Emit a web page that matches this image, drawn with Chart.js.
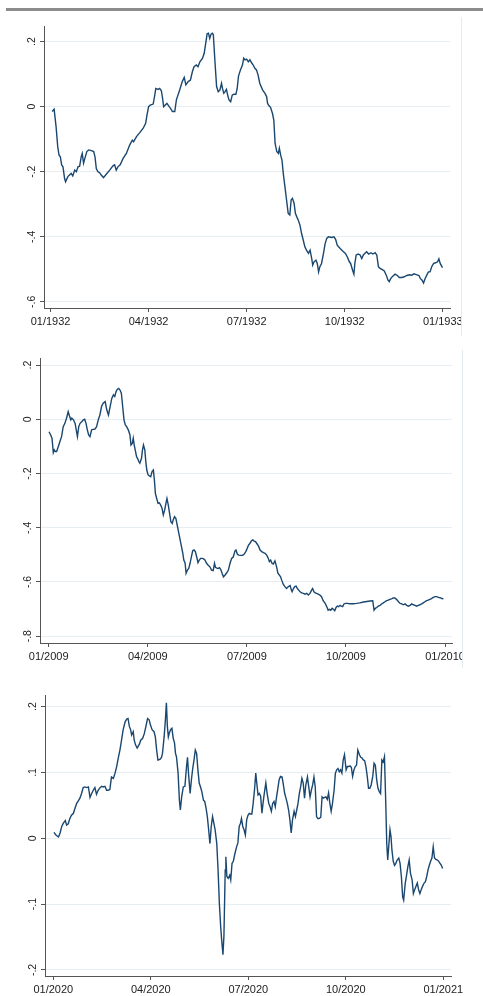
<!DOCTYPE html>
<html>
<head>
<meta charset="utf-8">
<script src="https://cdn.jsdelivr.net/npm/chart.js@4.4.1/dist/chart.umd.min.js"></script>
<style>
  html, body { margin: 0; padding: 0; background: #fff; }
  body { width: 483px; height: 996px; position: relative; overflow: hidden; }
  .rule { position: absolute; left: 6px; top: 8px; width: 477px; height: 3px; background: #8c8c8c; }
  .panel { position: absolute; left: 0; overflow: hidden; }
  .edge { position: absolute; width: 1px; background: #e2ebee; }
  canvas { display: block; }
</style>
</head>
<body>
<div class="rule"></div>
<div class="panel" style="top:0;width:461px;height:330px"><canvas id="c1932" width="483" height="330"></canvas></div>
<div class="edge" style="left:461px;top:17px;height:319px"></div>
<div class="panel" style="top:330px;width:462px;height:340px"><canvas id="c2009" width="483" height="340"></canvas></div>
<div class="edge" style="left:462px;top:350px;height:318px"></div>
<div class="panel" style="top:670px;width:483px;height:326px"><canvas id="c2020" width="483" height="326"></canvas></div>

<script>
// x values are months since January 1st of each year (0 = 01/yyyy, 12 = 01/yyyy+1)
const xTickMonths = [0, 3, 6, 9, 12];
const xLabels1932 = ['01/1932', '04/1932', '07/1932', '10/1932', '01/1933'];
const xLabels2009 = ['01/2009', '04/2009', '07/2009', '10/2009', '01/2010'];
const xLabels2020 = ['01/2020', '04/2020', '07/2020', '10/2020', '01/2021'];

const yTicks1932 = [-0.6, -0.4, -0.2, 0, 0.2];
const yLabels1932 = ['-.6', '-.4', '-.2', '0', '.2'];
const yTicks2009 = [-0.8, -0.6, -0.4, -0.2, 0, 0.2];
const yLabels2009 = ['-.8', '-.6', '-.4', '-.2', '0', '.2'];
const yTicks2020 = [-0.2, -0.1, 0, 0.1, 0.2];
const yLabels2020 = ['-.2', '-.1', '0', '.1', '.2'];

const t1932 = [0.05,0.11,0.17,0.22,0.26,0.30,0.34,0.38,0.43,0.46,0.53,0.58,0.63,0.68,0.74,0.79,0.84,0.89,0.94,0.97,
  1.01,1.05,1.11,1.17,1.25,1.32,1.36,1.40,1.45,1.50,1.55,1.62,1.71,1.81,1.91,1.96,2.01,2.06,2.13,2.22,
  2.32,2.42,2.50,2.54,2.63,2.73,2.83,2.91,2.95,3.00,3.05,3.14,3.19,3.22,3.29,3.34,3.39,3.42,3.46,3.51,
  3.56,3.63,3.67,3.73,3.80,3.85,3.95,4.03,4.09,4.14,4.21,4.28,4.34,4.39,4.46,4.51,4.57,4.65,4.70,4.75,
  4.79,4.83,4.87,4.91,4.95,4.98,5.03,5.08,5.13,5.18,5.23,5.26,5.30,5.34,5.38,5.43,5.46,5.51,5.56,5.61,
  5.67,5.71,5.75,5.81,5.87,5.91,5.95,6.00,6.05,6.10,6.15,6.20,6.25,6.30,6.35,6.40,6.49,6.56,6.61,6.64,
  6.69,6.73,6.79,6.83,6.87,6.92,6.97,7.00,7.04,7.08,7.12,7.17,7.22,7.27,7.32,7.36,7.40,7.45,7.49,7.53,
  7.58,7.63,7.68,7.73,7.78,7.83,7.89,7.94,7.99,8.02,8.06,8.12,8.16,8.20,8.24,8.29,8.35,8.40,8.45,8.50,
  8.60,8.67,8.72,8.77,8.86,8.96,9.02,9.08,9.14,9.18,9.24,9.28,9.31,9.35,9.41,9.47,9.52,9.57,9.62,9.67,
  9.73,9.80,9.86,9.93,9.98,10.03,10.08,10.15,10.21,10.27,10.32,10.36,10.41,10.47,10.54,10.61,10.67,10.75,10.82,10.90,
  10.98,11.05,11.12,11.21,11.27,11.31,11.36,11.41,11.46,11.51,11.56,11.61,11.66,11.72,11.78,11.84,11.88,11.92,11.99];
const y1932 = [-0.015,-0.008,-0.062,-0.123,-0.149,-0.154,-0.179,-0.185,-0.221,-0.231,-0.215,-0.210,-0.205,-0.213,-0.195,-0.200,-0.185,-0.183,-0.154,-0.144,
  -0.174,-0.159,-0.138,-0.133,-0.135,-0.138,-0.154,-0.190,-0.200,-0.203,-0.210,-0.218,-0.207,-0.195,-0.182,-0.179,-0.195,-0.185,-0.179,-0.159,
  -0.144,-0.118,-0.103,-0.108,-0.092,-0.080,-0.067,-0.051,-0.026,0.000,0.005,0.008,0.036,0.056,0.053,0.056,0.049,0.031,0.000,0.005,
  0.010,0.000,-0.005,-0.015,-0.015,0.021,0.051,0.077,0.090,0.067,0.077,0.082,0.108,0.123,0.128,0.123,0.138,0.149,0.164,0.197,
  0.224,0.226,0.210,0.223,0.226,0.221,0.138,0.062,0.046,0.051,0.072,0.056,0.041,0.046,0.053,0.031,0.021,0.015,0.036,0.038,
  0.038,0.056,0.094,0.113,0.128,0.149,0.144,0.146,0.138,0.144,0.135,0.128,0.118,0.113,0.097,0.072,0.051,0.041,0.031,0.010,
  0.002,-0.002,-0.021,-0.041,-0.113,-0.138,-0.144,-0.128,-0.149,-0.164,-0.205,-0.246,-0.287,-0.328,-0.333,-0.287,-0.282,-0.297,-0.328,-0.338,
  -0.349,-0.364,-0.390,-0.410,-0.431,-0.441,-0.451,-0.441,-0.467,-0.487,-0.477,-0.472,-0.482,-0.508,-0.492,-0.482,-0.451,-0.421,-0.405,-0.400,
  -0.402,-0.400,-0.408,-0.426,-0.436,-0.446,-0.451,-0.462,-0.477,-0.482,-0.503,-0.515,-0.482,-0.456,-0.453,-0.456,-0.467,-0.456,-0.451,-0.446,
  -0.453,-0.449,-0.453,-0.449,-0.456,-0.492,-0.497,-0.501,-0.505,-0.518,-0.533,-0.538,-0.528,-0.521,-0.515,-0.519,-0.525,-0.525,-0.523,-0.519,
  -0.517,-0.518,-0.514,-0.517,-0.519,-0.528,-0.533,-0.542,-0.528,-0.518,-0.508,-0.508,-0.492,-0.482,-0.480,-0.477,-0.468,-0.482,-0.495];

const t2009 = [0.01,0.06,0.10,0.14,0.17,0.20,0.24,0.29,0.34,0.39,0.44,0.49,0.54,0.59,0.63,0.67,0.70,0.75,0.80,0.87,
  0.91,0.95,1.00,1.05,1.09,1.13,1.17,1.21,1.25,1.30,1.35,1.40,1.45,1.50,1.55,1.60,1.65,1.71,1.76,1.81,
  1.86,1.91,1.96,2.00,2.04,2.08,2.12,2.16,2.20,2.24,2.28,2.32,2.36,2.41,2.46,2.49,2.53,2.56,2.59,2.63,
  2.66,2.69,2.73,2.76,2.81,2.84,2.87,2.91,2.94,2.97,3.01,3.05,3.09,3.13,3.17,3.20,3.23,3.27,3.31,3.35,
  3.39,3.43,3.47,3.51,3.55,3.58,3.62,3.66,3.70,3.74,3.77,3.81,3.85,3.90,3.94,3.98,4.02,4.06,4.09,4.13,
  4.16,4.20,4.24,4.28,4.32,4.36,4.40,4.44,4.48,4.52,4.56,4.60,4.64,4.68,4.73,4.78,4.83,4.88,4.93,4.98,
  5.02,5.05,5.09,5.13,5.17,5.21,5.25,5.29,5.34,5.39,5.44,5.49,5.54,5.59,5.64,5.67,5.71,5.75,5.81,5.87,
  5.92,5.97,6.01,6.05,6.09,6.14,6.18,6.22,6.26,6.30,6.35,6.40,6.45,6.50,6.55,6.60,6.65,6.68,6.72,6.76,
  6.80,6.85,6.90,6.94,6.98,7.02,7.06,7.10,7.15,7.20,7.26,7.31,7.34,7.37,7.41,7.45,7.49,7.53,7.57,7.61,
  7.66,7.71,7.76,7.81,7.86,7.91,7.96,7.99,8.03,8.07,8.11,8.16,8.21,8.26,8.31,8.37,8.42,8.46,8.50,8.54,
  8.58,8.62,8.66,8.70,8.74,8.78,8.82,8.86,8.90,8.94,8.98,9.04,9.12,9.22,9.32,9.42,9.53,9.63,9.73,9.81,
  9.85,9.89,9.93,9.98,10.03,10.08,10.13,10.18,10.23,10.28,10.33,10.38,10.43,10.48,10.53,10.59,10.64,10.69,10.74,10.79,
  10.84,10.89,10.94,10.99,11.04,11.09,11.14,11.19,11.24,11.29,11.34,11.39,11.44,11.49,11.54,11.59,11.64,11.70,11.75,11.80,
  11.85,11.90,11.95];
const y2009 = [-0.046,-0.058,-0.070,-0.123,-0.113,-0.119,-0.119,-0.101,-0.082,-0.064,-0.027,-0.015,0.004,0.028,0.012,-0.002,0.004,-0.002,-0.015,-0.064,
  -0.027,-0.015,-0.009,-0.002,0.000,-0.015,-0.039,-0.058,-0.064,-0.039,-0.037,-0.036,-0.027,-0.002,0.016,0.047,0.059,0.065,0.034,0.016,
  0.047,0.077,0.090,0.084,0.102,0.111,0.114,0.108,0.096,0.047,-0.002,-0.021,-0.027,-0.039,-0.058,-0.095,-0.089,-0.070,-0.095,-0.119,
  -0.138,-0.144,-0.156,-0.162,-0.144,-0.113,-0.095,-0.113,-0.156,-0.187,-0.205,-0.209,-0.212,-0.193,-0.187,-0.224,-0.273,-0.292,-0.310,-0.308,
  -0.316,-0.328,-0.353,-0.335,-0.310,-0.292,-0.316,-0.347,-0.378,-0.384,-0.371,-0.359,-0.365,-0.396,-0.421,-0.445,-0.470,-0.494,-0.519,-0.531,
  -0.568,-0.556,-0.550,-0.531,-0.507,-0.485,-0.482,-0.488,-0.507,-0.529,-0.519,-0.513,-0.513,-0.514,-0.519,-0.531,-0.538,-0.544,-0.556,-0.558,
  -0.531,-0.546,-0.549,-0.550,-0.547,-0.554,-0.568,-0.581,-0.574,-0.566,-0.556,-0.531,-0.513,-0.507,-0.485,-0.482,-0.497,-0.501,-0.502,-0.502,
  -0.497,-0.487,-0.476,-0.464,-0.458,-0.448,-0.445,-0.449,-0.451,-0.458,-0.467,-0.482,-0.488,-0.492,-0.494,-0.501,-0.513,-0.525,-0.519,-0.531,
  -0.534,-0.522,-0.544,-0.568,-0.574,-0.581,-0.595,-0.608,-0.617,-0.624,-0.617,-0.613,-0.627,-0.636,-0.624,-0.617,-0.615,-0.624,-0.630,-0.636,
  -0.640,-0.642,-0.645,-0.642,-0.648,-0.642,-0.630,-0.624,-0.636,-0.640,-0.642,-0.645,-0.648,-0.654,-0.669,-0.679,-0.691,-0.704,-0.701,-0.704,
  -0.697,-0.701,-0.706,-0.694,-0.689,-0.691,-0.686,-0.689,-0.691,-0.681,-0.679,-0.679,-0.680,-0.680,-0.679,-0.677,-0.674,-0.672,-0.670,-0.669,
  -0.704,-0.697,-0.694,-0.689,-0.686,-0.681,-0.677,-0.673,-0.669,-0.667,-0.664,-0.662,-0.659,-0.659,-0.664,-0.673,-0.679,-0.681,-0.684,-0.681,
  -0.686,-0.689,-0.686,-0.681,-0.684,-0.686,-0.689,-0.686,-0.684,-0.681,-0.677,-0.673,-0.669,-0.667,-0.664,-0.661,-0.657,-0.654,-0.654,-0.657,
  -0.658,-0.661,-0.662];

const t2020 = [0.02,0.08,0.16,0.21,0.26,0.31,0.37,0.41,0.46,0.51,0.56,0.62,0.67,0.72,0.77,0.82,0.87,0.92,0.97,1.03,
  1.08,1.13,1.18,1.23,1.28,1.33,1.38,1.44,1.49,1.54,1.59,1.64,1.69,1.74,1.79,1.85,1.90,1.95,2.00,2.05,
  2.10,2.15,2.21,2.26,2.30,2.34,2.38,2.41,2.46,2.49,2.53,2.58,2.65,2.69,2.75,2.80,2.85,2.90,2.95,2.99,
  3.04,3.10,3.14,3.18,3.22,3.28,3.33,3.36,3.41,3.45,3.48,3.51,3.54,3.57,3.61,3.65,3.69,3.73,3.76,3.79,
  3.84,3.88,3.91,3.95,4.00,4.05,4.10,4.13,4.16,4.21,4.25,4.29,4.33,4.37,4.41,4.45,4.49,4.53,4.57,4.62,
  4.66,4.70,4.74,4.78,4.82,4.86,4.90,4.94,4.98,5.03,5.07,5.11,5.15,5.18,5.22,5.25,5.29,5.31,5.34,5.38,
  5.43,5.46,5.50,5.54,5.58,5.64,5.68,5.72,5.76,5.79,5.83,5.87,5.91,5.95,5.99,6.03,6.07,6.11,6.15,6.19,
  6.23,6.26,6.30,6.34,6.38,6.42,6.46,6.50,6.54,6.58,6.63,6.67,6.71,6.75,6.79,6.83,6.87,6.91,6.95,6.99,
  7.04,7.08,7.12,7.16,7.20,7.24,7.28,7.32,7.36,7.41,7.45,7.49,7.53,7.57,7.61,7.65,7.69,7.73,7.77,7.82,
  7.86,7.90,7.94,7.98,8.02,8.06,8.10,8.14,8.18,8.23,8.27,8.31,8.35,8.39,8.43,8.47,8.51,8.55,8.59,8.64,
  8.68,8.72,8.76,8.80,8.84,8.88,8.92,8.96,9.01,9.05,9.09,9.13,9.17,9.21,9.25,9.29,9.33,9.37,9.42,9.46,
  9.50,9.54,9.58,9.62,9.66,9.70,9.74,9.78,9.83,9.87,9.91,9.95,9.99,10.03,10.07,10.11,10.15,10.19,10.23,10.26,
  10.29,10.32,10.36,10.39,10.42,10.46,10.50,10.54,10.58,10.63,10.67,10.71,10.75,10.78,10.83,10.87,10.91,10.95,10.99,11.04,
  11.08,11.12,11.16,11.20,11.24,11.28,11.32,11.36,11.41,11.45,11.49,11.53,11.57,11.61,11.65,11.69,11.73,11.77,11.82,11.86,
  11.90,11.94,11.98];
const y2020 = [0.009,0.005,0.002,0.008,0.018,0.023,0.027,0.020,0.022,0.030,0.035,0.038,0.046,0.053,0.057,0.061,0.068,0.077,0.078,0.077,
  0.078,0.062,0.068,0.073,0.077,0.067,0.073,0.077,0.079,0.078,0.079,0.073,0.073,0.074,0.093,0.091,0.099,0.109,0.122,0.134,
  0.149,0.165,0.177,0.181,0.182,0.170,0.165,0.157,0.162,0.149,0.142,0.137,0.143,0.149,0.152,0.159,0.170,0.182,0.180,0.172,
  0.165,0.162,0.154,0.134,0.119,0.120,0.123,0.129,0.154,0.180,0.206,0.170,0.154,0.160,0.165,0.167,0.152,0.145,0.129,0.124,
  0.099,0.058,0.043,0.063,0.078,0.079,0.109,0.123,0.099,0.068,0.089,0.106,0.119,0.134,0.129,0.104,0.084,0.078,0.071,0.058,
  0.056,0.046,0.033,0.013,-0.008,0.018,0.033,0.023,0.013,-0.008,-0.048,-0.099,-0.134,-0.154,-0.177,-0.149,-0.048,-0.028,-0.058,-0.061,
  -0.056,-0.063,-0.038,-0.035,-0.025,-0.013,-0.007,0.018,0.023,0.030,0.018,0.013,0.005,0.028,0.035,0.038,0.037,0.037,0.053,0.073,
  0.099,0.084,0.066,0.068,0.064,0.038,0.056,0.071,0.084,0.068,0.053,0.048,0.041,0.053,0.056,0.048,0.063,0.076,0.089,0.094,
  0.093,0.081,0.068,0.061,0.053,0.043,0.028,0.008,0.028,0.041,0.033,0.043,0.053,0.068,0.078,0.091,0.084,0.061,0.081,0.093,
  0.078,0.063,0.073,0.081,0.093,0.078,0.033,0.030,0.030,0.032,0.063,0.061,0.062,0.063,0.059,0.069,0.053,0.041,0.053,0.073,
  0.099,0.104,0.106,0.101,0.104,0.099,0.119,0.127,0.104,0.109,0.109,0.110,0.108,0.094,0.104,0.109,0.111,0.134,0.127,0.123,
  0.122,0.119,0.118,0.109,0.094,0.076,0.076,0.081,0.094,0.114,0.111,0.089,0.076,0.071,0.068,0.119,0.116,0.124,0.053,-0.008,
  -0.033,-0.013,0.013,0.003,-0.018,-0.035,-0.041,-0.038,-0.033,-0.030,-0.038,-0.058,-0.089,-0.094,-0.068,-0.056,-0.043,-0.033,-0.053,-0.063,
  -0.084,-0.078,-0.073,-0.068,-0.078,-0.084,-0.078,-0.073,-0.068,-0.066,-0.058,-0.048,-0.041,-0.035,-0.030,-0.013,-0.030,-0.032,-0.033,-0.035,
  -0.038,-0.041,-0.046];

const FONT = '"Liberation Sans", Arial, Helvetica, sans-serif';
const LINE = '#1a476f';
const AXIS = '#555555';
const GRID = '#e6eef1';
const TEXT = '#222222';

// y tick labels are drawn turned 90 degrees, reading upward
const rotatedYLabels = {
  id: 'rotatedYLabels',
  afterDraw(chart, args, opts) {
    const s = chart.scales.y, ctx = chart.ctx;
    ctx.save();
    ctx.fillStyle = TEXT;
    ctx.font = '10.5px ' + FONT;
    ctx.textAlign = 'center';
    ctx.textBaseline = 'alphabetic';
    s.ticks.forEach(function (t, i) {
      ctx.save();
      ctx.translate(s.right - opts.gap, s.getPixelForValue(t.value));
      ctx.rotate(-Math.PI / 2);
      ctx.fillText(opts.labels[i], 0, 0);
      ctx.restore();
    });
    ctx.restore();
  }
};

function makePanel(id, xs, ys, xLabels, yTicks, yLabels, box) {
  const canvas = document.getElementById(id);
  const W = canvas.width, H = canvas.height;
  const points = xs.map(function (x, i) { return { x: x, y: ys[i] }; });
  return new Chart(canvas, {
    type: 'line',
    data: {
      datasets: [{
        data: points, borderColor: LINE, borderWidth: 1.4,
        pointRadius: 0, tension: 0, fill: false
      }]
    },
    options: {
      responsive: false, animation: false, devicePixelRatio: 1,
      layout: { padding: { left: 0, top: box.top, right: W - box.right, bottom: 0 } },
      plugins: {
        legend: { display: false }, tooltip: { enabled: false },
        rotatedYLabels: { labels: yLabels, gap: 9 }
      },
      scales: {
        x: {
          type: 'linear', min: box.xMin, max: box.xMax,
          afterBuildTicks: function (s) { s.ticks = xTickMonths.map(function (v) { return { value: v }; }); },
          afterFit: function (s) { s.height = H - box.bottom; s.paddingLeft = 0; s.paddingRight = 0; },
          grid: { drawOnChartArea: false, drawTicks: true, tickLength: 4, tickColor: AXIS },
          border: { color: AXIS, width: 1 },
          ticks: {
            autoSkip: false, maxRotation: 0, minRotation: 0, padding: 3, color: TEXT,
            font: { family: FONT, size: 11 },
            callback: function (v, i) { return xLabels[i]; }
          }
        },
        y: {
          type: 'linear', min: box.yMin, max: box.yMax,
          afterBuildTicks: function (s) { s.ticks = yTicks.map(function (v) { return { value: v }; }); },
          afterFit: function (s) { s.width = box.left; s.paddingTop = 0; s.paddingBottom = 0; },
          grid: { color: GRID, lineWidth: 1, drawTicks: true, tickLength: 4, tickColor: AXIS },
          border: { color: AXIS, width: 1 },
          ticks: { display: false }
        }
      }
    },
    plugins: [rotatedYLabels]
  });
}

makePanel('c1932', t1932, y1932, xLabels1932, yTicks1932, yLabels1932,
  { left: 44, top: 26, right: 450, bottom: 308, xMin: -0.2, xMax: 12.22, yMin: -0.619, yMax: 0.248 });
makePanel('c2009', t2009, y2009, xLabels2009, yTicks2009, yLabels2009,
  { left: 40, top: 28, right: 452, bottom: 313, xMin: -0.263, xMax: 12.21, yMin: -0.825, yMax: 0.226 });
makePanel('c2020', t2020, y2020, xLabels2020, yTicks2020, yLabels2020,
  { left: 45, top: 25, right: 451, bottom: 306, xMin: -0.255, xMax: 12.237, yMin: -0.2092, yMax: 0.2177 });
</script>
</body>
</html>
